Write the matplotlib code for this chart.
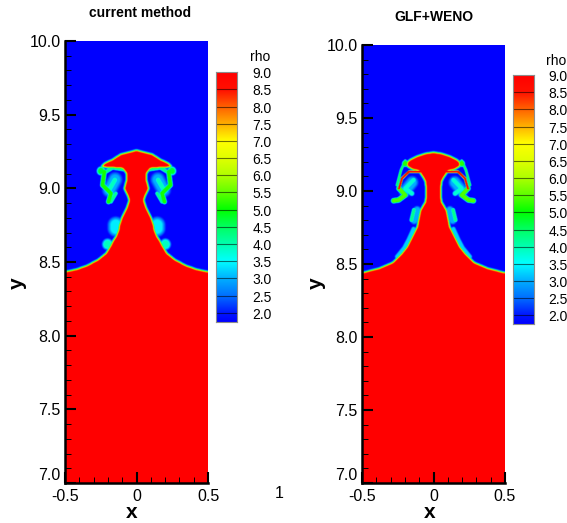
# -*- coding: utf-8 -*-

import numpy as np
import matplotlib
matplotlib.use('Agg')
import matplotlib.pyplot as plt
from matplotlib.colors import LinearSegmentedColormap, Normalize
from matplotlib.path import Path
from matplotlib.ticker import MultipleLocator

matplotlib.rc('font', **{'family': 'sans-serif',
                         'sans-serif': ['Liberation Sans', 'DejaVu Sans']})

W, H = 567., 523.

# interface outline, right half (x >= 0), the other half is mirrored
left_body_x = [0, .051, .110, .168, .226, .249, .214, .156, .098, .070, .070,
               .086, .063, .051, .070, .103, .121, .126, .145, .168, .179,
               .214, .273, .354, .424, .500]
left_body_y = [9.260, 9.247, 9.233, 9.197, 9.170, 9.147, 9.143, 9.140, 9.136,
               9.102, 9.057, 9.000, 8.955, 8.921, 8.864, 8.803, 8.751, 8.717,
               8.672, 8.638, 8.615, 8.559, 8.514, 8.473, 8.450, 8.434]
right_body_x = [0, .056, .114, .161, .184, .186, .149, .103, .075, .056, .051,
                .056, .091, .103, .114, .149, .184, .231, .289, .382, .500]
right_body_y = [9.267, 9.258, 9.240, 9.217, 9.201, 9.171, 9.149, 9.139, 9.098,
                9.064, 8.984, 8.927, 8.870, 8.813, 8.756, 8.687, 8.619, 8.562,
                8.509, 8.470, 8.441]

# wisps and vortices: x, y, peak rho, half width
left_hook_x = [.226, .238, .179, .196]
left_hook_y = [9.113, 9.023, 8.966, 8.910]
left_arc_x = [.093, .168, .214]
left_arc_y = [9.129, 9.140, 9.113]
left_swirl_x = [.150, .190]
left_swirl_y = [9.060, 8.990]
left_core_x = [.152, .186]
left_core_y = [9.057, 9.000]
left_tip_x = [.249, .250]
left_tip_y = [9.120, 9.118]
left_thin_x = [.145, .179]
left_thin_y = [8.966, 8.910]
left_blob_x = [.145, .145]
left_blob_y = [8.751, 8.729]
left_low_x = [.203, .204]
left_low_y = [8.622, 8.620]
left_wisps = [(left_swirl_x, left_swirl_y, 3.0, .060),
              (left_core_x, left_core_y, 3.9, .024),
              (left_arc_x, left_arc_y, 4.2, .016),
              (left_thin_x, left_thin_y, 4.2, .016),
              (left_hook_x, left_hook_y, 5.1, .021),
              (left_tip_x, left_tip_y, 4.8, .034),
              (left_blob_x, left_blob_y, 3.4, .066),
              (left_low_x, left_low_y, 3.9, .044)]

right_swirl_x = [.150, .200]
right_swirl_y = [9.060, 9.000]
right_core_x = [.140, .198, .152]
right_core_y = [9.076, 9.018, 8.984]
right_outer_x = [.198, .228, .256]
right_outer_y = [9.208, 9.144, 9.041]
right_arc_x = [.093, .172, .221, .242]
right_arc_y = [9.133, 9.133, 9.087, 9.018]
right_hook_x = [.242, .198, .245, .280]
right_hook_y = [9.018, 8.973, 8.939, 8.934]
right_cap_x = [.198, .199]
right_cap_y = [9.190, 9.188]
right_low_x = [.137, .154]
right_low_y = [8.870, 8.802]
right_bridge_x = [.115, .135]
right_bridge_y = [8.870, 8.800]
right_fringe_x = [.140, .175, .205, .255]
right_fringe_y = [8.740, 8.665, 8.610, 8.550]
right_wisps = [(right_swirl_x, right_swirl_y, 3.0, .052),
               (right_core_x, right_core_y, 3.8, .022),
               (right_outer_x, right_outer_y, 4.4, .012),
               (right_cap_x, right_cap_y, 5.2, .026),
               (right_hook_x, right_hook_y, 5.4, .022),
               (right_bridge_x, right_bridge_y, 3.0, .034),
               (right_low_x, right_low_y, 4.2, .018),
               (right_fringe_x, right_fringe_y, 3.2, .020),
               (right_arc_x, right_arc_y, 9., .011)]

# Tecplot style colour bar
cmap_rho = [1.74, 2., 2.5, 3., 3.5, 4., 4.5, 5., 5.5, 6., 6.5, 7., 7.5, 8., 8.5, 9.]
cmap_colors = ['#0000ff', '#0018ff', '#0070ff', '#00b0ff', '#00ffff', '#00ffb0',
               '#00ff60', '#00ff00', '#60ff00', '#b0ff00', '#e0ff00', '#ffff00',
               '#ffb000', '#ff6000', '#ff1000', '#ff0000']
levels = [9., 8.5, 8., 7.5, 7., 6.5, 6., 5.5, 5., 4.5, 4., 3.5, 3., 2.5, 2.]
level_labels = ['9.0', '8.5', '8.0', '7.5', '7.0', '6.5', '6.0', '5.5', '5.0',
                '4.5', '4.0', '3.5', '3.0', '2.5', '2.0']

y_ticks = [7., 7.5, 8., 8.5, 9., 9.5, 10.]
y_tick_labels = ['7.0', '7.5', '8.0', '8.5', '9.0', '9.5', '10.0']
x_ticks = [-.5, 0., .5]
x_tick_labels = ['-0.5', '0', '0.5']

cmap = LinearSegmentedColormap.from_list(
    'rho', [((r - 1.74) / 7.26, c) for r, c in zip(cmap_rho, cmap_colors)])
norm = Normalize(1.74, 9.)


def smooth(a, passes):
    k = np.array([1., 4., 6., 4., 1.]) / 16.
    for _ in range(passes):
        a = np.pad(a, 2, mode='edge')
        a = np.apply_along_axis(lambda r: np.convolve(r, k, mode='same'), 0, a)
        a = np.apply_along_axis(lambda r: np.convolve(r, k, mode='same'), 1, a)
        a = a[2:-2, 2:-2]
    return a


def polyline_dist(X, Y, xs, ys):
    d = np.full(X.shape, 1e9)
    for i in range(len(xs) - 1):
        ax_, ay_, bx, by = xs[i], ys[i], xs[i + 1], ys[i + 1]
        t = ((X - ax_) * (bx - ax_) + (Y - ay_) * (by - ay_)) / ((bx - ax_)**2 + (by - ay_)**2)
        t = np.clip(t, 0, 1)
        d = np.minimum(d, np.hypot(X - ax_ - t * (bx - ax_), Y - ay_ - t * (by - ay_)))
    return d


def build_field(bx, by, wisps):
    x = np.linspace(-.5, .5, 286)
    y = np.linspace(7., 10., 880)
    X, Y = np.meshgrid(x, y)
    px = [-.6] + [-v for v in bx[::-1]] + list(bx[1:]) + [.6, .6, -.6]
    py = [by[-1]] + list(by[::-1]) + list(by[1:]) + [by[-1], 6.8, 6.8]
    inside = Path(np.column_stack([px, py])).contains_points(
        np.column_stack([X.ravel(), Y.ravel()])).reshape(X.shape)
    rho = smooth(1.74 + 7.26 * inside, 3)
    for xs, ys, peak, hw in wisps:
        for sign in (1, -1):
            d = polyline_dist(X, Y, [sign * v for v in xs], ys)
            rho = np.maximum(rho, 1.74 + (peak - 1.74) * np.clip(2 * (1 - d / hw), 0, 1))
    return rho


def axes_px(left, top, right, bottom):
    return fig.add_axes([left / W, 1 - bottom / H, (right - left) / W, (bottom - top) / H])


def panel(left, top, rho, title, title_xy, xlabel_x, ylabel_x):
    ax = axes_px(left, top, left + 143, 483)
    ax.imshow(rho, origin='lower', extent=(-.5, .5, 7., 10.), aspect='auto',
              cmap=cmap, norm=norm, interpolation='bilinear')
    for s in ('top', 'right'):
        ax.spines[s].set_visible(False)
    for s in ('left', 'bottom'):
        ax.spines[s].set_linewidth(1.8)
    ax.set_xlim(-.5, .5)
    ax.set_ylim(7., 10.)
    ax.set_xticks(x_ticks)
    ax.set_xticklabels(x_tick_labels, fontsize=11.5)
    ax.set_yticks(y_ticks)
    ax.set_yticklabels(y_tick_labels, fontsize=11.5)
    ax.xaxis.set_minor_locator(MultipleLocator(.1))
    ax.yaxis.set_minor_locator(MultipleLocator(.1))
    ax.tick_params(which='major', direction='in', length=8, width=1.5, pad=4)
    ax.tick_params(which='minor', direction='in', length=4.5, width=.7)
    ax.tick_params(axis='y', which='major', pad=3)
    ax.get_yticklabels()[0].set_verticalalignment('bottom')
    fig.text(title_xy[0] / W, 1 - title_xy[1] / H, title, ha='center', va='center',
             fontsize=10, fontweight='bold')
    fig.text(xlabel_x / W, 1 - 513 / H, 'x', ha='center', va='center',
             fontsize=15, fontweight='bold')
    fig.text(ylabel_x / W, 1 - 283 / H, 'y', ha='center', va='center',
             fontsize=15, fontweight='bold', rotation=90)


def colorbar(left, right, top, label_x, rho_x, rho_y):
    # 9.0 sits on top edge, 17.17 px for each 0.5
    bottom = top + (9. - 1.74) * 34.34
    cax = axes_px(left, top, right, bottom)
    grad = np.linspace(1.74, 9., 256).reshape(-1, 1)
    cax.imshow(grad, origin='lower', extent=(0, 1, 1.74, 9.), aspect='auto',
               cmap=cmap, norm=norm)
    cax.hlines(levels[1:], 0, 1, color='k', alpha=.55, lw=.8)
    cax.set_xlim(0, 1)
    cax.set_ylim(1.74, 9.)
    cax.set_xticks([])
    cax.set_yticks([])
    for s in cax.spines.values():
        s.set_color('0.55')
        s.set_linewidth(.8)
    for lev, lab in zip(levels, level_labels):
        ypx = top + (9. - lev) * 34.34 + 2
        fig.text(label_x / W, 1 - ypx / H, lab, ha='left', va='center', fontsize=10)
    fig.text(rho_x / W, 1 - rho_y / H, 'rho', ha='left', va='center', fontsize=10)


fig = plt.figure(figsize=(W / 100, H / 100), dpi=100)

rho_left = build_field(left_body_x, left_body_y, left_wisps)
rho_right = build_field(right_body_x, right_body_y, right_wisps)

panel(65, 41, rho_left, 'current method', (140.5, 13), 132, 17)
panel(362, 45, rho_right, 'GLF+WENO', (434, 17), 430, 316)
colorbar(215.7, 237.3, 72.3, 252.5, 250, 57)
colorbar(512.7, 533.7, 75, 548.7, 546, 61)

# stray tick label of the first frame
fig.text(279.5 / W, 1 - 494 / H, '1', ha='center', va='center', fontsize=11.5)

fig.savefig('out.png', dpi=100)
